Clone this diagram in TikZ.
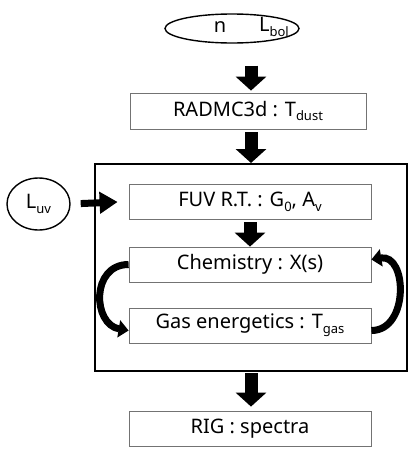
\documentclass[tikz,border=0pt]{standalone}
\usepackage{fontspec}
\setmainfont{Noto Sans}
\usepackage{tikz}
\usetikzlibrary{shapes.geometric,arrows.meta}
\newcommand{\lowsub}[1]{\raisebox{-0.45ex}{\fontsize{13}{13}\selectfont #1}}

\begin{document}
\begin{tikzpicture}[x=1pt,y=-1pt,
    stage/.style={draw=black!55,line width=0.8pt,minimum width=242pt,minimum height=35pt,inner sep=0pt,font=\fontsize{20}{20}\selectfont},
    source/.style={draw,ellipse,line width=1.4pt,inner sep=0pt},
    fat/.style={line width=13pt,-{Triangle[width=30pt,length=14pt]}},
    loop/.style={line width=7pt,-{Triangle[width=17pt,length=10pt]}}]
  \useasboundingbox (0,0) rectangle (415,461);
  % input and first stage
  \node[source,minimum width=134pt,minimum height=29pt] (input) at (232,28.5) {};
  \node[font=\fontsize{20}{20}\selectfont] (dens) at (220,27) {n};
  \node[font=\fontsize{20}{20}\selectfont] (lbol) at (274,27) {L\lowsub{bol}};
  \node[stage,minimum width=236pt,minimum height=36pt] (radmc) at (248,111) {RADMC3d : T\lowsub{dust}};
  % iteration block
  \draw[line width=2pt] (95,164) rectangle (407,371);
  \coordinate (blocktop) at (251,164);
  \coordinate (blockbot) at (251,371);
  \node[stage] (fuv) at (250,201.5) {FUV R.T. : G\lowsub{0}, A\lowsub{v}};
  \node[stage] (chem) at (250,264.5) {Chemistry : X(s)};
  \node[stage] (gas) at (250,325.5) {Gas energetics : T\lowsub{gas}};
  \node[source,minimum width=63pt,minimum height=52pt,font=\fontsize{20}{20}\selectfont] (luv) at (38.5,204) {L\lowsub{uv}};
  \node[stage] (rig) at (250,428.5) {RIG : spectra};
  % arrows
  \draw[fat,shorten <=22pt,shorten >=2pt] (input.south -| 251,0) -- (radmc.north -| 251,0);
  \draw[fat,shorten <=3pt,shorten >=1pt] (radmc.south -| blocktop) -- (blocktop);
  \draw[fat,shorten <=3pt] (fuv.south) -- (chem.north);
  \draw[fat,shorten <=2pt,shorten >=4pt] (blockbot) -- (rig.north -| blockbot);
  \draw[line width=7pt,-{Triangle[width=21pt,length=18pt]},shorten <=10pt,shorten >=11pt] (luv.east) -- (fuv.west);
  \draw[loop] (chem.west) .. controls +(-38,0) and +(-36,-6) .. ([yshift=-5pt]gas.west);
  \draw[loop] ([yshift=-5pt]gas.east) .. controls +(38,0) and +(36,-6) .. ([yshift=5pt]chem.east);
\end{tikzpicture}
\end{document}
